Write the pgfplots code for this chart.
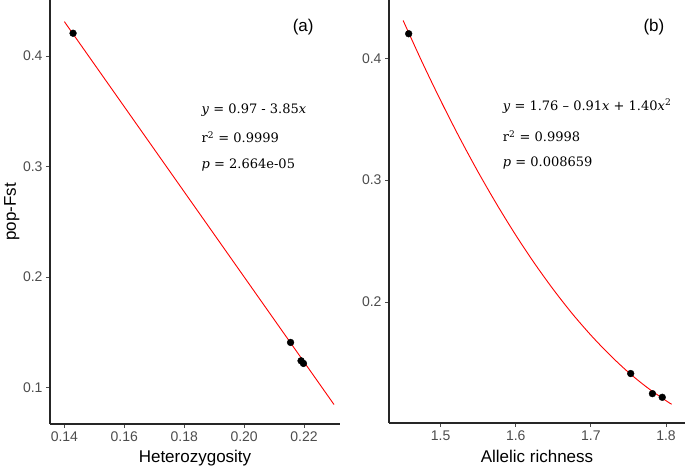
\documentclass[border=0pt]{standalone}
\usepackage{fontspec}
\setmainfont{Liberation Sans}
\newfontfamily\eqfont{DejaVu Serif}
\usepackage{pgfplots}
\pgfplotsset{compat=1.18}

\pgfplotsset{
  panel/.style={
    scale only axis,
    axis lines=left,
    axis line style={-, line width=1.1pt, black!85},
    tick style={line width=0.8pt, black!70},
    tick align=outside,
    major tick length=4pt,
    ticklabel style={font=\fontsize{14}{14}\selectfont, text=black!70},
    /pgf/number format/assume math mode=true,
    label style={font=\fontsize{17}{17}\selectfont},
  },
  fitline/.style={red, line width=0.9pt, no markers},
  pts/.style={only marks, mark=*, mark size=3.4pt, black},
}
\newcommand{\eqtext}{\eqfont\fontsize{13}{13}\selectfont}

\begin{document}
\begin{tikzpicture}
% (a) Fst vs heterozygosity
\begin{axis}[panel,
  at={(50pt,46pt)}, anchor=south west,
  width=290pt, height=424pt,
  xmin=0.1352, xmax=0.232, ymin=0.0669, ymax=0.4506,
  xtick={0.14,0.16,0.18,0.20,0.22},
  ytick={0.1,0.2,0.3,0.4},
  xticklabel style={/pgf/number format/.cd, fixed, fixed zerofill, precision=2},
  yticklabel style={/pgf/number format/.cd, fixed, precision=1},
  xlabel={Heterozygosity}, ylabel={pop-Fst},
  x label style={at={(axis description cs:0.5,-0.080)}, anchor=center},
  y label style={at={(axis description cs:-0.132,0.5)}, anchor=center},
]
\addplot[fitline] coordinates {(0.14,0.431)(0.23,0.0845)};
\addplot[pts] coordinates {(0.1429,0.4205)(0.2155,0.1407)(0.2190,0.1241)(0.2198,0.1217)};
\node[font=\fontsize{17}{17}\selectfont] at (rel axis cs:0.873,0.937) {(a)};
\node[font=\eqtext, anchor=west] at (rel axis cs:0.511,0.741) {\textit{y} = 0.97 - 3.85\textit{x}};
\node[font=\eqtext, anchor=west] at (rel axis cs:0.511,0.677) {r\textsuperscript{2} = 0.9999};
\node[font=\eqtext, anchor=west] at (rel axis cs:0.511,0.611) {\textit{p} = 2.664e-05};
\end{axis}

% (b) Fst vs allelic richness
\begin{axis}[panel,
  at={(389pt,47pt)}, anchor=south west,
  width=296pt, height=423pt,
  xmin=1.4312, xmax=1.8253, ymin=0.1006, ymax=0.4479,
  xtick={1.5,1.6,1.7,1.8},
  ytick={0.2,0.3,0.4},
  xticklabel style={/pgf/number format/.cd, fixed, fixed zerofill, precision=1},
  yticklabel style={/pgf/number format/.cd, fixed, precision=1},
  xlabel={Allelic richness},
  x label style={at={(axis description cs:0.5,-0.080)}, anchor=center},
]
\addplot[fitline, smooth] coordinates {
  (1.45,0.4311)(1.475,0.3973)(1.50,0.3653)(1.525,0.3350)(1.55,0.3065)
  (1.575,0.2798)(1.60,0.2548)(1.625,0.2316)(1.65,0.2102)(1.675,0.1905)
  (1.70,0.1727)(1.725,0.1566)(1.75,0.1422)(1.775,0.1297)(1.80,0.1189)
  (1.8075,0.1160)};
\addplot[pts] coordinates {(1.4574,0.4202)(1.753,0.1412)(1.7819,0.1247)(1.795,0.1217)};
\node[font=\fontsize{17}{17}\selectfont] at (rel axis cs:0.895,0.937) {(b)};
\node[font=\eqtext, anchor=west] at (rel axis cs:0.373,0.749) {\textit{y} = 1.76 – 0.91\textit{x} + 1.40\textit{x}\textsuperscript{2}};
\node[font=\eqtext, anchor=west] at (rel axis cs:0.373,0.678) {r\textsuperscript{2} = 0.9998};
\node[font=\eqtext, anchor=west] at (rel axis cs:0.373,0.614) {\textit{p} = 0.008659};
\end{axis}
\pgfresetboundingbox
\path (0,0) rectangle (685pt,470pt);
\end{tikzpicture}
\end{document}
